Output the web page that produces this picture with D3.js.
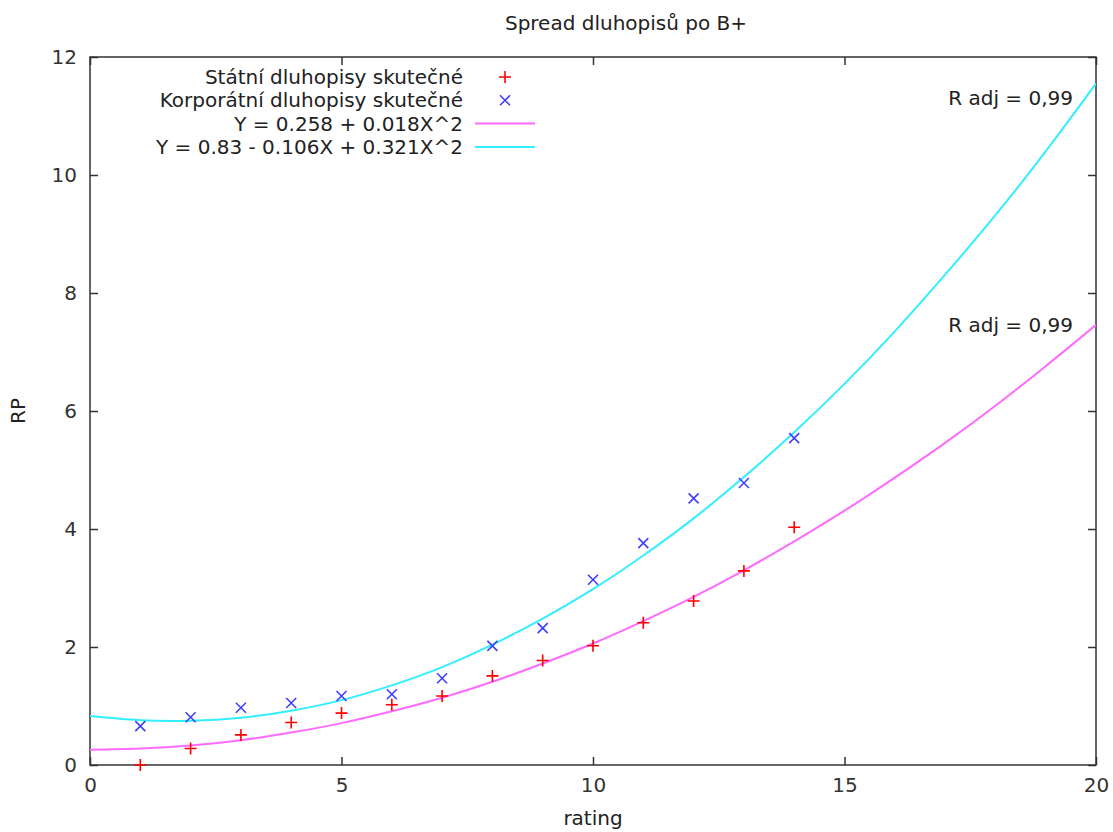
<!DOCTYPE html>
<html>
<head>
<meta charset="utf-8">
<script src="https://cdn.jsdelivr.net/npm/d3@7"></script>
<style>
  body { margin: 0; background: #fff; }
  svg { display: block; font-family: "DejaVu Sans", Verdana, sans-serif; }
  .frame { fill: none; stroke: #333; stroke-width: 1.5; }
</style>
</head>
<body>
<svg id="chart" width="1113" height="832"></svg>
<script>
// ratings on x
const ratings = [1, 2, 3, 4, 5, 6, 7, 8, 9, 10, 11, 12, 13, 14]
// risk premium
const statniActual = [0.0, 0.28, 0.51, 0.72, 0.88, 1.02, 1.17, 1.51, 1.77, 2.02, 2.41, 2.78, 3.29, 4.03]
const korpActual = [0.66, 0.81, 0.97, 1.05, 1.17, 1.20, 1.47, 2.02, 2.32, 3.14, 3.76, 4.52, 4.78, 5.54]

// fitted curves at whole ratings 0..20
const fitX = [0, 1, 2, 3, 4, 5, 6, 7, 8, 9, 10, 11, 12, 13, 14, 15, 16, 17, 18, 19, 20]
const statniFit = [0.26, 0.28, 0.33, 0.42, 0.55, 0.71, 0.91, 1.14, 1.41, 1.72, 2.06, 2.44, 2.85, 3.30, 3.79, 4.31, 4.87, 5.46, 6.09, 6.76, 7.46]
const korpFit = [0.83, 0.76, 0.75, 0.80, 0.92, 1.10, 1.35, 1.66, 2.04, 2.48, 2.98, 3.55, 4.18, 4.88, 5.64, 6.46, 7.35, 8.31, 9.32, 10.40, 11.55]

const xTicks = [0, 5, 10, 15, 20]
const yTicks = [0, 2, 4, 6, 8, 10, 12]
const legendLabels = ['Státní dluhopisy skutečné', 'Korporátní dluhopisy skutečné', 'Y = 0.258 + 0.018X^2', 'Y = 0.83 - 0.106X + 0.321X^2']
const rAdjLabels = [{ text: 'R adj = 0,99', y: 11.3 }, { text: 'R adj = 0,99', y: 7.45 }]

const colors = { red: '#ff0000', blue: '#3f3fff', magenta: '#ff6bff', cyan: '#33eeff' }
const fs = '20px'

const svg = d3.select('#chart')
const m = { left: 90, right: 1096, top: 57, bottom: 765 }

const x = d3.scaleLinear().domain([0, 20]).range([m.left, m.right])
const y = d3.scaleLinear().domain([0, 12]).range([m.bottom, m.top])

// title and axis names
svg.append('text').attr('x', 626).attr('y', 30).attr('text-anchor', 'middle')
    .style('font-size', fs).attr('fill', '#222').text('Spread dluhopisů po B+')
svg.append('text').attr('x', 593).attr('y', 825).attr('text-anchor', 'middle')
    .style('font-size', fs).attr('fill', '#222').text('rating')
svg.append('text').attr('transform', 'translate(25, 411) rotate(-90)').attr('text-anchor', 'middle')
    .style('font-size', fs).attr('fill', '#222').text('RP')

// axes: inward ticks, mirrored on top / right
const axB = d3.axisBottom(x).tickValues(xTicks).tickSizeInner(-8).tickSizeOuter(0).tickPadding(13)
const axT = d3.axisTop(x).tickValues(xTicks).tickSizeInner(-8).tickSizeOuter(0).tickFormat('')
const axL = d3.axisLeft(y).tickValues(yTicks).tickSizeInner(-8).tickSizeOuter(0).tickPadding(13)
const axR = d3.axisRight(y).tickValues(yTicks).tickSizeInner(-8).tickSizeOuter(0).tickFormat('')

svg.append('g').attr('class', 'axis').attr('transform', `translate(0, ${m.bottom})`).call(axB)
svg.append('g').attr('class', 'axis').attr('transform', `translate(0, ${m.top})`).call(axT)
svg.append('g').attr('class', 'axis').attr('transform', `translate(${m.left}, 0)`).call(axL)
svg.append('g').attr('class', 'axis').attr('transform', `translate(${m.right}, 0)`).call(axR)
svg.selectAll('.axis .domain').remove()
svg.selectAll('.axis line').attr('stroke', '#333').attr('stroke-width', 1.5)
svg.selectAll('.axis').attr('font-family', null).attr('font-size', null)
svg.selectAll('.axis text').style('font-size', fs).attr('fill', '#333')

svg.append('rect').attr('class', 'frame')
    .attr('x', m.left).attr('y', m.top).attr('width', m.right - m.left).attr('height', m.bottom - m.top)

svg.append('clipPath').attr('id', 'clip').append('rect')
    .attr('x', m.left).attr('y', m.top).attr('width', m.right - m.left).attr('height', m.bottom - m.top)

const plot = svg.append('g').attr('clip-path', 'url(#clip)')

const line = d3.line().x(d => x(d[0])).y(d => y(d[1])).curve(d3.curveNatural)
plot.append('path').attr('d', line(d3.zip(fitX, statniFit)))
    .attr('fill', 'none').attr('stroke', colors.magenta).attr('stroke-width', 2)
plot.append('path').attr('d', line(d3.zip(fitX, korpFit)))
    .attr('fill', 'none').attr('stroke', colors.cyan).attr('stroke-width', 2)

const plus = 'M-6,0H6M0,-6V6'
const cross = 'M-5,-5L5,5M-5,5L5,-5'

svg.append('g').selectAll('path').data(d3.zip(ratings, statniActual)).join('path')
    .attr('transform', d => `translate(${x(d[0])}, ${y(d[1])})`)
    .attr('d', plus).attr('stroke', colors.red).attr('stroke-width', 1.6)
svg.append('g').selectAll('path').data(d3.zip(ratings, korpActual)).join('path')
    .attr('transform', d => `translate(${x(d[0])}, ${y(d[1])})`)
    .attr('d', cross).attr('stroke', colors.blue).attr('stroke-width', 1.6)

// legend
const legend = svg.append('g').attr('transform', 'translate(463, 77)')
const rows = legend.selectAll('g').data(legendLabels).join('g')
    .attr('transform', (d, i) => `translate(0, ${i * 23.3})`)
rows.append('text').attr('text-anchor', 'end').attr('dy', '0.35em')
    .style('font-size', fs).attr('fill', '#222').text(d => d)
rows.filter((d, i) => i === 0).append('path').attr('transform', 'translate(42, 0)')
    .attr('d', plus).attr('stroke', colors.red).attr('stroke-width', 1.6)
rows.filter((d, i) => i === 1).append('path').attr('transform', 'translate(42, 0)')
    .attr('d', cross).attr('stroke', colors.blue).attr('stroke-width', 1.6)
rows.filter((d, i) => i === 2).append('line').attr('x1', 12).attr('x2', 72)
    .attr('stroke', colors.magenta).attr('stroke-width', 2)
rows.filter((d, i) => i === 3).append('line').attr('x1', 12).attr('x2', 72)
    .attr('stroke', colors.cyan).attr('stroke-width', 2)

// R adj notes
svg.append('g').selectAll('text').data(rAdjLabels).join('text')
    .attr('x', 1073).attr('y', d => y(d.y)).attr('dy', '0.35em').attr('text-anchor', 'end')
    .style('font-size', fs).attr('fill', '#222').text(d => d.text)
</script>
</body>
</html>
